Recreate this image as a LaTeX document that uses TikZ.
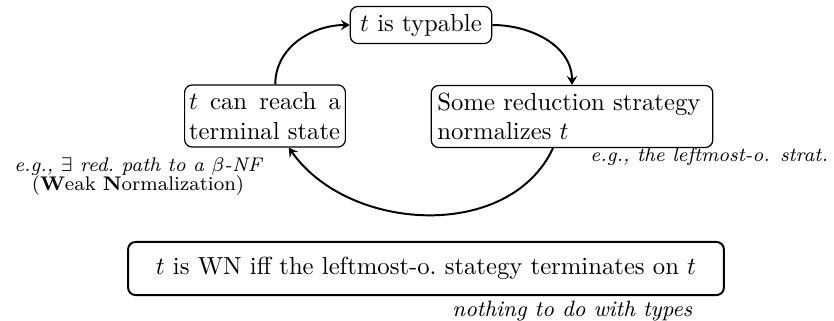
\documentclass[tikz,border=0pt]{standalone}
\usetikzlibrary{arrows.meta}
\begin{document}
\begin{tikzpicture}[x=0.405pt, y=0.405pt,
  state/.style={draw, rounded corners=3pt, inner sep=2.5pt, line width=0.5pt},
  flow/.style={thick, -{Stealth[length=3.6pt,width=4.2pt,inset=1.3pt]}},
  note/.style={font=\footnotesize\itshape, inner sep=0pt}]
\useasboundingbox (0,0) rectangle (834,-321);

% the three properties of a term t
\node[state, inner xsep=4pt, inner ysep=3pt] (typ) at (421,-25) {$t$ is typable};
\node[state, text width=61.5pt, inner xsep=1.8pt, align=left, minimum height=25.1pt] (reach) at (265,-116)
  {$t$\hfill can\hfill reach\hfill a\\\mbox{terminal state}};
\node[state, text width=109pt, align=left, minimum height=25.1pt] (norm) at (572,-116.5)
  {Some reduction strategy\\normalizes $t$};

% the cycle of implications
\draw[flow] (reach.72) to[out=90,in=180] (typ.west);
\draw[flow] (typ.east) to[out=0,in=90] (norm.north);
\draw[flow] (norm.-121) to[out=-115,in=-55] (reach.-53);

% side remarks
\node[note, align=center] (wnnote) at (138,-177)
  {e.g., $\exists$ red.\ path to a $\beta$-NF\\[-1.8pt]\textup{(\textbf{W}eak \textbf{N}ormalization)}};
\node[note, anchor=base west] (lmnote) at (590,-161) {e.g., the leftmost-o. strat.};

% the resulting statement
\node[state, thick, minimum width=241.3pt, minimum height=21.5pt] (wn) at (426,-268.5)
  {$t$ is WN iff the leftmost-o.\ stategy terminates on $t$};
\node[note, font=\small\itshape, anchor=base west] (typesnote) at (452,-316) {nothing to do with types};
\end{tikzpicture}
\end{document}
